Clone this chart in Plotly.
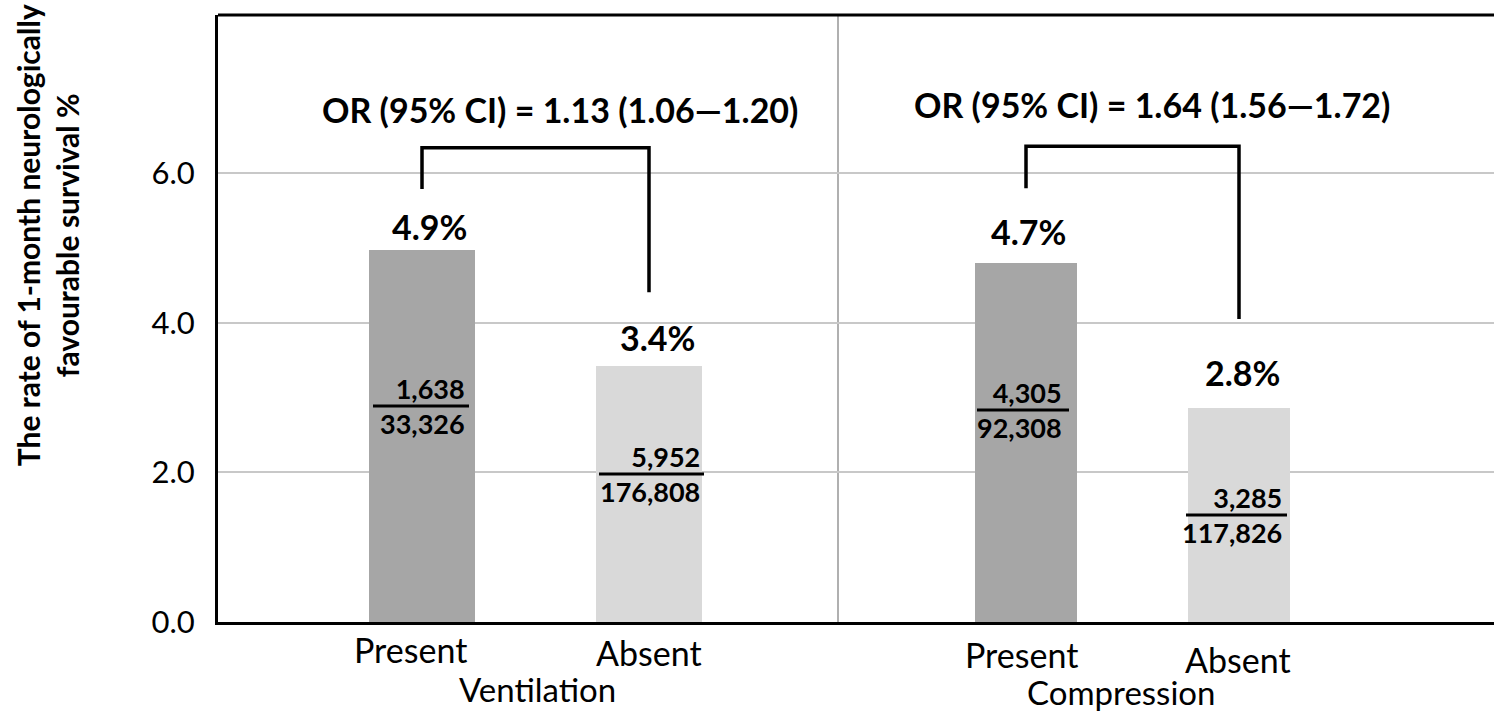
import plotly.graph_objects as go

# ---------------- data ----------------
groups = ["Ventilation", "Compression"]
categories = ["Present", "Absent", "Present", "Absent"]
rates = [4.97, 3.42, 4.80, 2.86]              # bar heights (%)
rate_labels = ["4.9%", "3.4%", "4.7%", "2.8%"]
numerators = ["1,638", "5,952", "4,305", "3,285"]
denominators = ["33,326", "176,808", "92,308", "117,826"]
or_texts = ["OR (95% CI) = 1.13 (1.06\u20141.20)", "OR (95% CI) = 1.64 (1.56\u20141.72)"]
y_ticks = [0, 2, 4, 6]

# ---------------- layout constants ----------------
FONT = "Lato"
x_pos = [2.04, 4.31, 8.08, 10.21]
bar_w = [1.06, 1.06, 1.02, 1.02]
colors = ["#a6a6a6", "#d9d9d9", "#a6a6a6", "#d9d9d9"]
pct_shift = [24, 29, 31, 36]
pct_dx = [0.07, 0.08, 0.02, 0.03]
cat_dx = [-0.12, 0.0, -0.05, -0.01]
cat_y = [-0.046, -0.051, -0.054, -0.061]
frac_left = [1.55, 3.81, 7.59, 9.68]
frac_right = [2.51, 4.86, 8.51, 10.69]
frac_txt_right = [2.49, 4.84, 8.46, 10.66]
frac_y = [2.888, 1.979, 2.834, 1.430]
group_x = [3.19, 9.03]
group_y = [-0.110, -0.116]
divider_x = 6.2
or_x = [3.42, 9.34]
or_y = [0.8435, 0.853]
br_top = [6.34, 6.36]
br_left_bottom = [5.79, 5.80]
br_right_bottom = [4.41, 4.05]
X_RANGE = [0, 12.76]
Y_RANGE = [0, 8.115]

fig = go.Figure()
fig.add_trace(go.Bar(x=x_pos, y=rates, width=bar_w, marker=dict(color=colors, line=dict(width=0)),
                     hoverinfo="skip", showlegend=False))

ann = []
shapes = []
for i in range(4):
    ann.append(dict(x=x_pos[i] + pct_dx[i], y=rates[i], xref="x", yref="y", text=f"<b>{rate_labels[i]}</b>",
                    showarrow=False, yshift=pct_shift[i], font=dict(family=FONT, size=34, color="black"),
                    xanchor="center", yanchor="middle"))
    ann.append(dict(x=x_pos[i] + cat_dx[i], y=cat_y[i], xref="x", yref="paper", text=categories[i],
                    showarrow=False, font=dict(family=FONT, size=34, color="black"),
                    xanchor="center", yanchor="middle"))
    ann.append(dict(x=frac_txt_right[i], y=frac_y[i], xref="x", yref="y",
                    text=f"<b>{numerators[i]}</b><br><b>{denominators[i]}</b>",
                    showarrow=False, align="right", font=dict(family=FONT, size=27, color="black"),
                    xanchor="right", yanchor="middle"))
    shapes.append(dict(type="line", xref="x", yref="y", x0=frac_left[i], x1=frac_right[i],
                       y0=frac_y[i], y1=frac_y[i], line=dict(color="black", width=3)))

for g in range(2):
    ann.append(dict(x=group_x[g], y=group_y[g], xref="x", yref="paper", text=groups[g], showarrow=False,
                    font=dict(family=FONT, size=33, color="black"), xanchor="center", yanchor="middle"))
    ann.append(dict(x=or_x[g], y=or_y[g], xref="x", yref="paper", text=f"<b>{or_texts[g]}</b>", showarrow=False,
                    font=dict(family=FONT, size=34, color="black"), xanchor="center", yanchor="middle"))
    xl = x_pos[2 * g]
    xr = x_pos[2 * g + 1]
    shapes.append(dict(type="path", xref="x", yref="y",
                       path=f"M {xl},{br_left_bottom[g]} L {xl},{br_top[g]} L {xr},{br_top[g]} L {xr},{br_right_bottom[g]}",
                       line=dict(color="black", width=3.5)))

# y-axis title
ann.append(dict(x=-0.133, y=0.6376, xref="paper", yref="paper",
                text="<b>The rate of 1-month neurologically</b><br><b>favourable survival %</b>",
                textangle=-90, showarrow=False, font=dict(family=FONT, size=30, color="black"),
                xanchor="center", yanchor="middle"))

# divider and top border
shapes.append(dict(type="line", xref="x", yref="paper", x0=divider_x, x1=divider_x, y0=0, y1=1,
                   line=dict(color="#b0b0b0", width=2), layer="below"))
shapes.append(dict(type="line", xref="paper", yref="paper", x0=0, x1=1, y0=1, y1=1,
                   line=dict(color="black", width=3)))

fig.update_layout(
    width=1494, height=712,
    margin=dict(l=218, r=0, t=15, b=90),
    paper_bgcolor="white", plot_bgcolor="white",
    annotations=ann, shapes=shapes,
    bargap=0,
    xaxis=dict(range=X_RANGE, showgrid=False, zeroline=False, showticklabels=False, ticks="",
               showline=True, linecolor="black", linewidth=3),
    yaxis=dict(range=Y_RANGE, tickvals=y_ticks, tickformat=".1f", showgrid=True, gridcolor="#c8c8c8",
               gridwidth=2, zeroline=False, showline=True, linecolor="black", linewidth=3,
               ticks="", ticklen=0, tickfont=dict(family=FONT, size=31, color="black"), ticklabelstandoff=14),
    font=dict(family=FONT),
)

fig.write_html("out.html", config={"displayModeBar": False},
               post_script="document.body.style.margin='0px';document.body.style.overflow='hidden';")
